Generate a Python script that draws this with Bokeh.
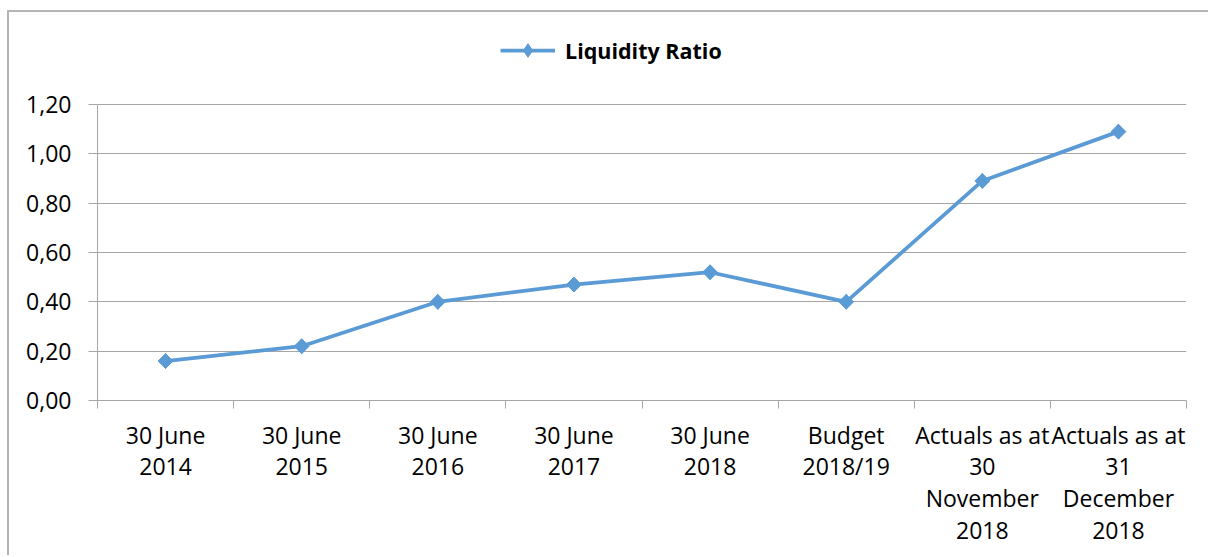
from bokeh.plotting import figure
from bokeh.models import (Range1d, FixedTicker, CustomJSTickFormatter, Legend, LegendItem)
from bokeh.embed import file_html
from bokeh.resources import INLINE

categories = ["30 June\n2014", "30 June\n2015", "30 June\n2016", "30 June\n2017",
              "30 June\n2018", "Budget\n2018/19", "Actuals as at\n30\nNovember\n2018",
              "Actuals as at\n31\nDecember\n2018"]
values = [0.16, 0.22, 0.40, 0.47, 0.52, 0.40, 0.89, 1.09]
series_name = "Liquidity Ratio"
y_ticks = [0.0, 0.2, 0.4, 0.6, 0.8, 1.0, 1.2]

FONT = "Open Sans"
BLUE = "#5B9BD5"
GRAY = "#a6a6a6"

n = len(categories)
xs = [i + 0.5 for i in range(n)]
y_top = 1.2 * 380 / 296  # head-room above the axis for the legend

p = figure(width=1201, height=545, output_backend="svg", toolbar_location=None,
           x_range=Range1d(0, n), y_range=Range1d(0, y_top),
           min_border_left=88, min_border_right=24, min_border_top=8, min_border_bottom=157)
p.outline_line_color = None
p.styles = {"margin-left": "7px", "margin-top": "10px",
            "border-left": "2px solid #b4b4b4", "border-top": "2px solid #b4b4b4"}

line = p.line(xs, values, line_color=BLUE, line_width=3.75)
diam = p.scatter(xs, values, marker="diamond", size=14.5,
                 fill_color=BLUE, line_color=BLUE)
pts = p.scatter(xs, values, marker="square", angle=0.785398, size=10.5,
                fill_color=BLUE, line_color=BLUE)

# x axis
p.xaxis.ticker = FixedTicker(ticks=xs, minor_ticks=list(range(n + 1)))
p.xaxis.major_label_overrides = {x: c for x, c in zip(xs, categories)}
p.xaxis.major_tick_out = 0
p.xaxis.major_tick_in = 0
p.xaxis.minor_tick_out = 8
p.xaxis.minor_tick_in = 0
p.xaxis.minor_tick_line_color = GRAY
p.xaxis.axis_line_color = GRAY
p.xaxis.major_label_standoff = 10
p.xaxis.major_label_text_font = FONT
p.xaxis.major_label_text_font_size = "23px"
p.xaxis.major_label_text_color = "#000000"
p.xaxis.major_label_text_line_height = 0.995
p.xaxis.major_label_orientation = "horizontal"
p.xgrid.grid_line_color = None

# y axis
p.yaxis.ticker = FixedTicker(ticks=y_ticks)
p.yaxis.bounds = (0, 1.2)
p.yaxis.formatter = CustomJSTickFormatter(code="return tick.toFixed(2).replace('.', ',');")
p.yaxis.major_tick_out = 9
p.yaxis.major_tick_in = 0
p.yaxis.minor_tick_line_color = None
p.yaxis.major_tick_line_color = GRAY
p.yaxis.axis_line_color = GRAY
p.yaxis.major_label_standoff = 17
p.yaxis.major_label_text_font = FONT
p.yaxis.major_label_text_font_size = "23px"
p.yaxis.major_label_text_color = "#000000"
p.ygrid.ticker = FixedTicker(ticks=y_ticks)
p.ygrid.grid_line_color = GRAY
p.ygrid.grid_line_width = 1

legend = Legend(items=[LegendItem(label=series_name, renderers=[line, diam])],
                location=(403, 333), orientation="horizontal",
                glyph_width=55, glyph_height=34, label_standoff=10,
                padding=0, margin=0, border_line_color=None,
                background_fill_alpha=0,
                label_text_font=FONT, label_text_font_style="bold",
                label_text_font_size="21.5px", label_text_color="#000000")
p.add_layout(legend, "center")

open("out.html", "w").write(file_html(p, INLINE))
